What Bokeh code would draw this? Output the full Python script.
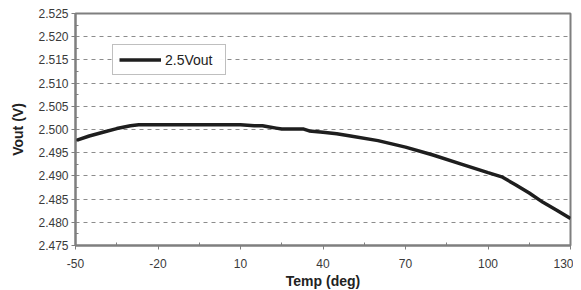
from bokeh.plotting import figure
from bokeh.models import FixedTicker, Range1d, Legend, LegendItem
from bokeh.embed import file_html
from bokeh.resources import INLINE

temp = [-50, -45, -40, -35, -30, -27, -20, -10, 0, 10, 15, 18, 20, 23, 25, 30, 33, 35, 40, 45, 50, 60, 70, 80, 90, 100, 105, 110, 115, 120, 125, 130]
vout = [2.4976, 2.4986, 2.4994, 2.5002, 2.5008, 2.5010, 2.5010, 2.5010, 2.5010, 2.5010, 2.5008, 2.5008, 2.5006, 2.5003, 2.5001, 2.5001, 2.5001, 2.4997, 2.4994, 2.4991, 2.4986, 2.4976, 2.4962, 2.4945, 2.4926, 2.4907, 2.4898, 2.4881, 2.4863, 2.4843, 2.4826, 2.4808]

x_ticks = [-50, -20, 10, 40, 70, 100, 130]
x_minor = [-35, -5, 25, 55, 85, 115]
x_labels = {v: str(v) for v in x_ticks}
y_ticks = [2.475, 2.480, 2.485, 2.490, 2.495, 2.500, 2.505, 2.510, 2.515, 2.520, 2.525]
y_minor = [2.4775, 2.4825, 2.4875, 2.4925, 2.4975, 2.5025, 2.5075, 2.5125, 2.5175, 2.5225]
y_labels = {v: f"{v:.3f}" for v in y_ticks}
series_name = "2.5Vout"

p = figure(frame_width=495, frame_height=232, output_backend="svg", toolbar_location=None,
           x_range=Range1d(-50, 130), y_range=Range1d(2.475, 2.525),
           min_border_left=75, min_border_top=13, min_border_right=3, min_border_bottom=37)

r = p.line(temp, vout, line_color="#1e1e1e", line_width=3.5)

p.xaxis.ticker = FixedTicker(ticks=x_ticks, minor_ticks=x_minor)
p.yaxis.ticker = FixedTicker(ticks=y_ticks, minor_ticks=y_minor)
p.xaxis.major_label_overrides = x_labels
p.yaxis.major_label_overrides = y_labels

for ax in (p.xaxis[0], p.yaxis[0]):
    ax.axis_line_color = "#7f7f7f"
    ax.axis_line_width = 2
    ax.major_tick_line_color = "#7f7f7f"
    ax.minor_tick_line_color = "#7f7f7f"
    ax.major_tick_out = 4
    ax.major_tick_in = 0
    ax.minor_tick_out = 0
    ax.minor_tick_in = 3
    ax.major_label_text_font = "Liberation Sans"
    ax.major_label_text_font_size = "12px"
    ax.major_label_text_color = "#3a3a3a"
    ax.axis_label_text_font = "Liberation Sans"
    ax.axis_label_text_font_size = "14px"
    ax.axis_label_text_font_style = "bold"
    ax.axis_label_text_color = "#222222"

p.xaxis.axis_label = "Temp (deg)"
p.yaxis.axis_label = "Vout (V)"
p.xaxis.major_label_standoff = 9
p.xaxis.axis_label_standoff = 2
p.yaxis.major_label_standoff = 3
p.yaxis.axis_label_standoff = 9

p.xgrid.grid_line_color = None
p.ygrid.grid_line_color = "#8c8c8c"
p.ygrid.grid_line_dash = "4 4"
p.ygrid.grid_line_width = 1

p.outline_line_color = "#7f7f7f"
p.outline_line_width = 2
p.background_fill_color = "white"
p.border_fill_color = "white"

legend = Legend(items=[LegendItem(label=series_name, renderers=[r])],
                location=(37, 170))
legend.label_text_font = "Liberation Sans"
legend.label_text_font_size = "14px"
legend.label_text_color = "#222222"
legend.border_line_color = "#7f7f7f"
legend.border_line_width = 1
legend.padding = 6
legend.glyph_width = 42
legend.glyph_height = 17
legend.label_height = 17
legend.label_standoff = 4
legend.label_width = 54
legend.margin = 0
legend.spacing = 0
p.add_layout(legend, "center")

open("out.html", "w").write(file_html(p, INLINE))
